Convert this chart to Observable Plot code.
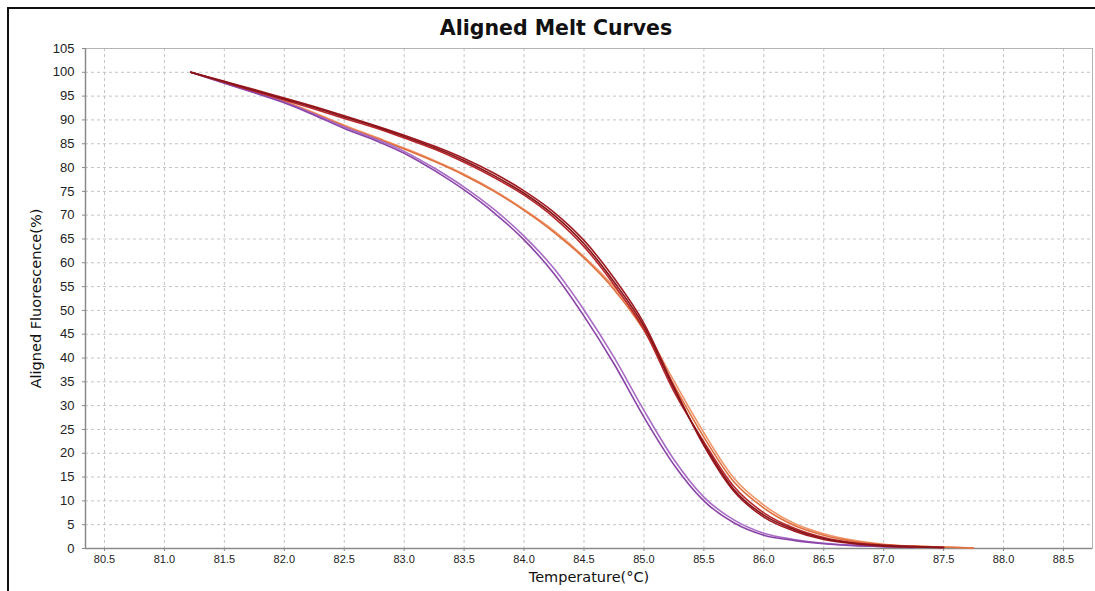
<!DOCTYPE html>
<html>
<head>
<meta charset="utf-8">
<script src="https://cdn.jsdelivr.net/npm/d3@7"></script>
<script src="https://cdn.jsdelivr.net/npm/@observablehq/plot@0.6"></script>
<style>
  html, body { margin: 0; padding: 0; background: #fff; width: 1095px; height: 591px; overflow: hidden; }
  body { position: relative; font-family: "Liberation Sans", Arial, sans-serif; }
  #panel { position: absolute; left: 7px; top: 7px; width: 1100px; height: 600px;
           border-top: 2px solid #111; border-left: 2px solid #111; box-sizing: border-box; }
  #title { position: absolute; left: 0; top: 16px; width: 1112px; text-align: center;
           font-family: "DejaVu Sans", sans-serif; font-size: 20.5px; line-height: 24px;
           font-weight: bold; color: #111; }
  #chart { position: absolute; left: 0; top: 0; }
</style>
</head>
<body>
<div id="panel"></div>
<div id="title">Aligned Melt Curves</div>
<div id="chart"></div>
<script>
// Temperature grid (°C) shared by every well
const temperature = [81.22, 81.5, 81.75, 82.0, 82.25, 82.5, 82.75, 83.0, 83.25, 83.5, 83.75,
  84.0, 84.25, 84.5, 84.75, 85.0, 85.25, 85.5, 85.75, 86.0, 86.25, 86.5, 86.75, 87.0, 87.25, 87.5, 87.75];

// Aligned fluorescence (%) per well; null where the well has no reading
const red1 = [100, 98.0, 96.2, 94.4, 92.6, 90.6, 88.7, 86.5, 84.2, 81.5, 78.3, 74.6, 70.0, 64.0, 56.0, 46.7,
  33.6, 22.0, 12.4, 7.0, 4.0, 2.1, 1.1, 0.6, 0.4, 0.2, null];
const red2 = [100, 98.1, 96.4, 94.6, 92.8, 90.9, 88.9, 86.8, 84.5, 81.9, 78.8, 75.1, 70.6, 64.7, 56.8, 47.3,
  34.0, 21.6, 12.0, 6.6, 3.7, 1.9, 1.0, 0.5, 0.3, 0.2, null];
const red3 = [100, 97.9, 96.0, 94.2, 92.3, 90.3, 88.4, 86.2, 83.9, 81.1, 77.9, 74.2, 69.5, 63.4, 55.4, 46.0,
  33.0, 22.4, 13.0, 7.5, 4.3, 2.3, 1.2, 0.7, 0.4, 0.2, null];
const orange1 = [100, 97.8, 95.8, 93.8, 91.3, 88.7, 86.3, 83.9, 81.3, 78.4, 75.0, 71.0, 66.4, 61.0, 54.4, 45.8,
  34.3, 23.4, 14.0, 8.5, 4.9, 2.8, 1.5, 0.8, 0.5, 0.3, 0.1];
const orange2 = [100, 97.9, 95.9, 93.9, 91.5, 88.9, 86.5, 84.1, 81.5, 78.6, 75.2, 71.2, 66.7, 61.3, 54.9, 46.5,
  35.2, 24.3, 14.8, 9.1, 5.3, 3.1, 1.7, 0.9, 0.5, 0.3, 0.1];
const purple1 = [100, 97.7, 95.7, 93.6, 91.0, 88.2, 85.8, 83.0, 79.4, 75.3, 70.5, 64.8, 57.7, 48.8, 38.8, 27.6,
  17.6, 10.0, 5.4, 2.8, 1.7, 1.0, 0.6, 0.4, 0.2, null, null];
const purple2 = [100, 97.8, 95.8, 93.7, 91.2, 88.5, 86.1, 83.4, 79.9, 75.9, 71.2, 65.6, 58.8, 50.1, 40.2, 29.0,
  18.7, 10.8, 6.0, 3.2, 1.9, 1.1, 0.7, 0.4, 0.2, null, null];

const wells = [
  {name: "orange2", values: orange2, color: "#f0956a"},
  {name: "orange1", values: orange1, color: "#e0703e"},
  {name: "purple2", values: purple2, color: "#a96cc6"},
  {name: "purple1", values: purple1, color: "#8a44a8"},
  {name: "red3", values: red3, color: "#b8262a"},
  {name: "red2", values: red2, color: "#a01a20"},
  {name: "red1", values: red1, color: "#86141a"}
];

const xTicks = [80.5, 81.0, 81.5, 82.0, 82.5, 83.0, 83.5, 84.0, 84.5, 85.0, 85.5, 86.0, 86.5, 87.0, 87.5, 88.0, 88.5];
const yTicks = [0, 5, 10, 15, 20, 25, 30, 35, 40, 45, 50, 55, 60, 65, 70, 75, 80, 85, 90, 95, 100, 105];

// Long table: one row per reading
const rows = wells.flatMap(w =>
  temperature.map((t, i) => ({well: w.name, t, v: w.values[i]})).filter(d => d.v != null)
);

const lineMarks = wells.map(w =>
  Plot.line(rows.filter(d => d.well === w.name), {
    x: "t", y: "v", stroke: w.color, strokeWidth: 1.6, curve: "monotone-x"
  })
);

const labelFont = "'DejaVu Sans', sans-serif";

const chart = Plot.plot({
  width: 1095,
  height: 591,
  marginLeft: 85,
  marginRight: 3,
  marginTop: 48,
  marginBottom: 43,
  style: {fontFamily: "'Liberation Sans', Arial, sans-serif", background: "transparent", color: "#222"},
  x: {domain: [80.3415, 88.742]},
  y: {domain: [0, 105]},
  marks: [
    Plot.gridX(xTicks, {stroke: "#c4c4c4", strokeOpacity: 1, strokeDasharray: "3,3"}),
    Plot.gridY(yTicks, {stroke: "#c4c4c4", strokeOpacity: 1, strokeDasharray: "3,3"}),
    Plot.frame({stroke: "#b4b4b4"}),
    Plot.ruleX([80.3415], {stroke: "#8a8a8a", strokeWidth: 1.5}),
    Plot.ruleY([0], {stroke: "#8a8a8a", strokeWidth: 1.5}),
    Plot.axisX(xTicks, {tickSize: 3, tickPadding: 4, fontSize: 11, stroke: "#8a8a8a",
      tickFormat: d3.format(".1f"), label: null}),
    Plot.axisY(yTicks, {tickSize: 3, tickPadding: 8, fontSize: 13, stroke: "#8a8a8a", label: null}),
    ...lineMarks,
    Plot.text(["Temperature(°C)"], {frameAnchor: "bottom", dy: 33, fontSize: 14.5,
      fontFamily: labelFont, fill: "#111"}),
    Plot.text(["Aligned Fluorescence(%)"], {frameAnchor: "left", textAnchor: "middle", dx: -49,
      rotate: -90, fontSize: 14.5, fontFamily: labelFont, fill: "#111"})
  ]
});

document.getElementById("chart").append(chart);
</script>
</body>
</html>
